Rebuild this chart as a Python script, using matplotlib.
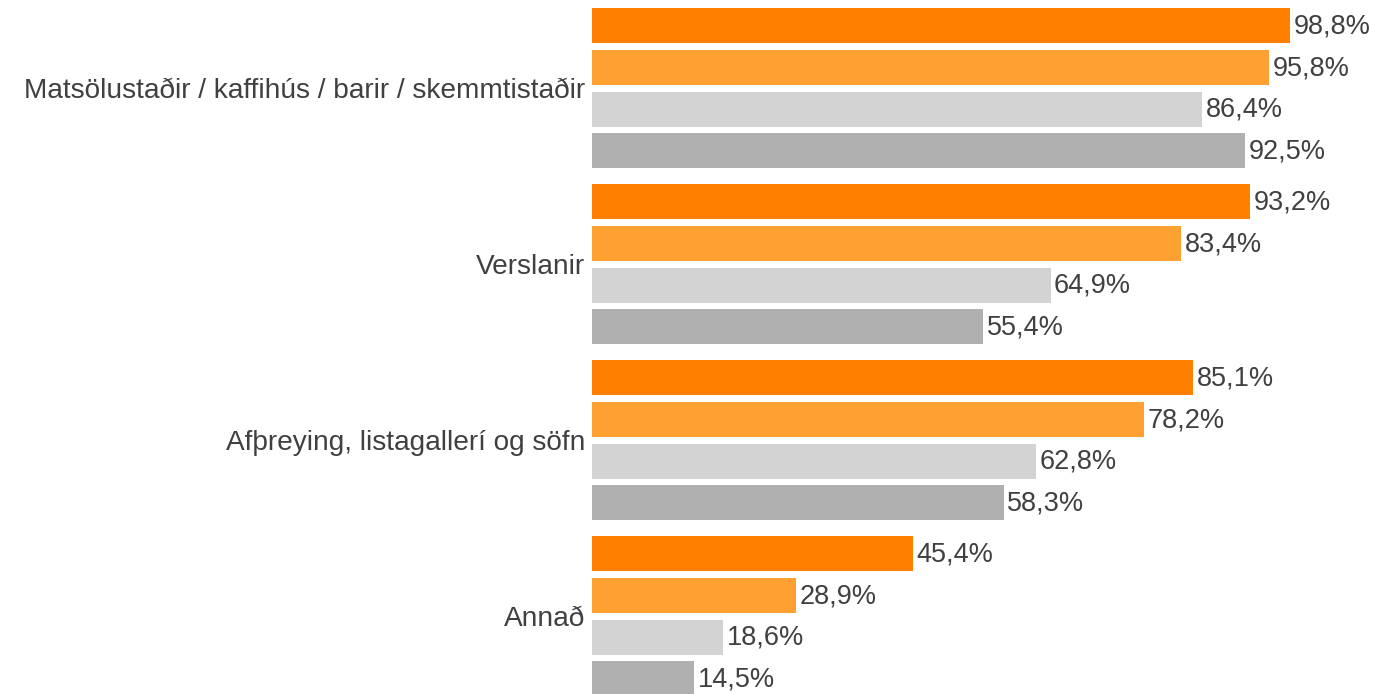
import matplotlib
matplotlib.use("Agg")
import matplotlib.pyplot as plt

categories = ["Matsölustaðir / kaffihús / barir / skemmtistaðir",
              "Verslanir",
              "Afþreying, listagallerí og söfn",
              "Annað"]
series_a = [98.8, 93.2, 85.1, 45.4]
series_b = [95.8, 83.4, 78.2, 28.9]
series_c = [86.4, 64.9, 62.8, 18.6]
series_d = [92.5, 55.4, 58.3, 14.5]
series = [series_a, series_b, series_c, series_d]
colors = ["#FF8000", "#FFA033", "#D3D3D3", "#B0B0B0"]

plt.rcParams['font.family'] = ['Liberation Sans', 'DejaVu Sans']
W, H = 1375, 694
fig = plt.figure(figsize=(W / 100, H / 100), dpi=100)
ax_left = 592 / W
ax = fig.add_axes([ax_left, 0, 1 - ax_left, 1])

pitch_px = 41.8
group_px = 176.0
gp = group_px / pitch_px
bar_h = 35.0 / pitch_px
txt = "#404040"
px_per_unit = 698 / 98.8

for j, vals in enumerate(series):
    ys = [g * gp + j for g in range(len(categories))]
    ax.barh(ys, vals, height=bar_h, color=colors[j], linewidth=0)
    for y, v in zip(ys, vals):
        ax.text(v + 3.5 / px_per_unit, y + 0.02, f"{v:.1f}".replace(".", ",") + "%",
                va="center", ha="left", fontsize=19.5, color=txt)

centers = [g * gp + 1.5 for g in range(len(categories))]
ax.set_yticks(centers)
ax.set_yticklabels(categories, fontsize=20.2, color=txt)
ax.tick_params(axis="y", length=0, pad=5)
ax.set_xticks([])
ax.set_xlim(0, (W - 592) / px_per_unit)
ax.set_ylim((H - 25.5) / pitch_px, -25.5 / pitch_px)
for s in ax.spines.values():
    s.set_visible(False)

fig.savefig("out.png", dpi=100)
